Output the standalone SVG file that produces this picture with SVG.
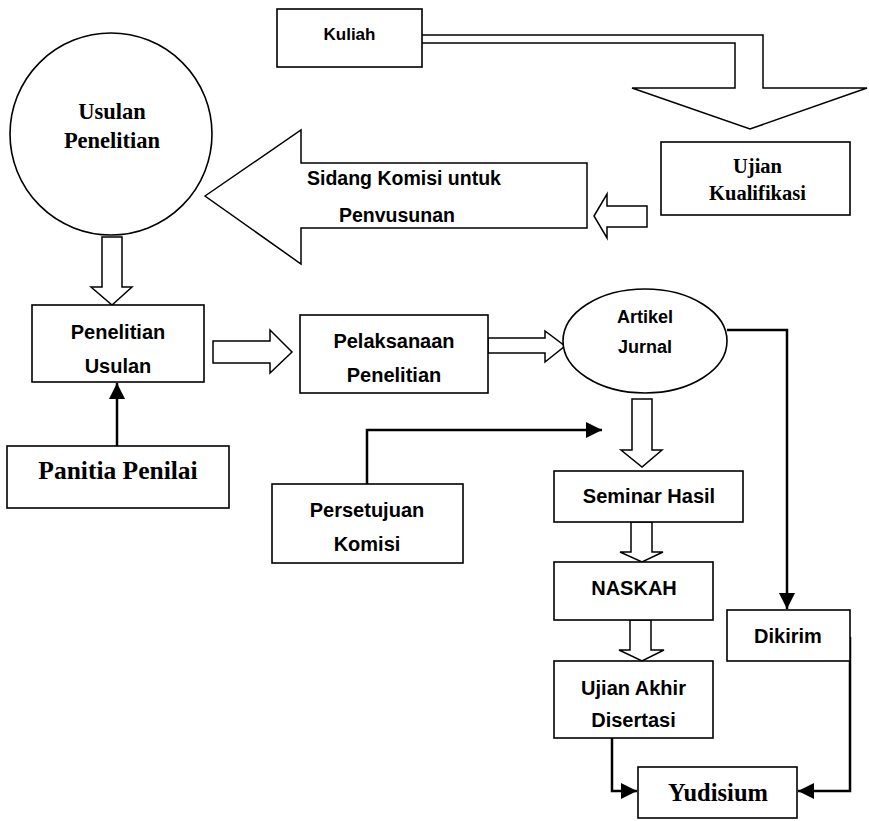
<svg xmlns="http://www.w3.org/2000/svg" width="869" height="821" viewBox="0 0 869 821">
  <style>
    .box { fill: #ffffff; stroke: #000000; stroke-width: 1.6; }
    .block { fill: #ffffff; stroke: #000000; stroke-width: 1.5; stroke-linejoin: miter; }
    .line { fill: none; stroke: #000000; stroke-width: 2.5; }
    .sans { font-family: "Liberation Sans", Arial, sans-serif; font-weight: bold; fill: #000000; }
    .serif { font-family: "Liberation Serif", "Times New Roman", serif; font-weight: bold; fill: #000000; }
    .c { text-anchor: middle; }
  </style>
  <defs>
    <marker id="head" markerUnits="userSpaceOnUse" markerWidth="16" markerHeight="16" refX="16" refY="8" orient="auto">
      <path d="M0,0 L16,8 L0,16 z" fill="#000000"/>
    </marker>
  </defs>

  <!-- connectors: block arrows and plain lines -->
  <g id="connectors">
    <polygon class="block" points="420,35 763,35 763,88 867,88 750,129 632,88 735,88 735,43 420,43"/>
    <polygon class="block" points="594,216 607,194 607,206 647,206 647,227 607,227 607,238"/>
    <polygon class="block" points="102,237 122,237 122,287 132,287 112,305 91,287 102,287"/>
    <polygon class="block" points="213,341 270,341 270,330 292,352 270,373 270,363 213,363"/>
    <polygon class="block" points="488,338 545,338 545,331 565,346 545,362 545,353 488,353"/>
    <polygon class="block" points="632,399 652,399 652,450 662,450 642,467 621,450 632,450"/>
    <polygon class="block" points="631,522 652,522 652,552 663,552 642,562 620,552 631,552"/>
    <polygon class="block" points="630,620 651,620 651,650 664,650 642,661 619,650 630,650"/>

    <path class="line" d="M117,446 V383" marker-end="url(#head)"/>
    <path class="line" d="M367,484 V430 H602" marker-end="url(#head)"/>
    <path class="line" d="M727,330 H787 V609" marker-end="url(#head)"/>
    <path class="line" d="M612,738 V791 H637" marker-end="url(#head)"/>
    <path class="line" d="M850,637 V791 H798" marker-end="url(#head)"/>
  </g>

  <g id="kuliah">
    <rect class="box" x="277" y="9" width="145" height="58"/>
    <text class="sans c" x="349.5" y="40" font-size="17">Kuliah</text>
  </g>

  <g id="usulan-penelitian">
    <circle class="box" cx="111" cy="134" r="101"/>
    <text class="serif c" x="112" y="119" font-size="22.5">Usulan</text>
    <text class="serif c" x="112" y="148" font-size="22.5">Penelitian</text>
  </g>

  <g id="ujian-kualifikasi">
    <rect class="box" x="661" y="142" width="189" height="73"/>
    <text class="serif c" x="757.5" y="172.5" font-size="20.5">Ujian</text>
    <text class="serif c" x="757.5" y="200" font-size="20.5">Kualifikasi</text>
  </g>

  <g id="sidang-komisi">
    <polygon class="block" points="205,196 301,130 301,163 587,163 587,228 301,228 301,264"/>
    <text class="sans" x="307" y="185" font-size="19.5">Sidang Komisi untuk</text>
    <text class="sans" x="339" y="222" font-size="19.5">Penvusunan</text>
  </g>

  <g id="penelitian-usulan">
    <rect class="box" x="32" y="305" width="172" height="77"/>
    <text class="sans c" x="118" y="339" font-size="20">Penelitian</text>
    <text class="sans c" x="118" y="372.5" font-size="20">Usulan</text>
  </g>

  <g id="pelaksanaan-penelitian">
    <rect class="box" x="300" y="315" width="188" height="78"/>
    <text class="sans c" x="394" y="348" font-size="20">Pelaksanaan</text>
    <text class="sans c" x="394" y="381.5" font-size="20">Penelitian</text>
  </g>

  <g id="artikel-jurnal">
    <ellipse class="box" cx="645" cy="341" rx="82" ry="52"/>
    <text class="sans c" x="645" y="322.5" font-size="18">Artikel</text>
    <text class="sans c" x="645" y="353" font-size="18">Jurnal</text>
  </g>

  <g id="panitia-penilai">
    <rect class="box" x="7" y="446" width="222" height="62"/>
    <text class="serif c" x="118" y="479" font-size="25.5">Panitia Penilai</text>
  </g>

  <g id="persetujuan-komisi">
    <rect class="box" x="272" y="484" width="191" height="79"/>
    <text class="sans c" x="367" y="517" font-size="20">Persetujuan</text>
    <text class="sans c" x="367" y="551" font-size="20">Komisi</text>
  </g>

  <g id="seminar-hasil">
    <rect class="box" x="554" y="471" width="189" height="51"/>
    <text class="sans c" x="649" y="503" font-size="20">Seminar Hasil</text>
  </g>

  <g id="naskah">
    <rect class="box" x="554" y="562" width="159" height="58"/>
    <text class="sans c" x="634" y="595" font-size="20">NASKAH</text>
  </g>

  <g id="dikirim">
    <rect class="box" x="727" y="610" width="123" height="51"/>
    <text class="sans c" x="788" y="643" font-size="20">Dikirim</text>
  </g>

  <g id="ujian-akhir">
    <rect class="box" x="554" y="661" width="159" height="77"/>
    <text class="sans c" x="633.5" y="695" font-size="20">Ujian Akhir</text>
    <text class="sans c" x="633.5" y="727" font-size="20">Disertasi</text>
  </g>

  <g id="yudisium">
    <rect class="box" x="638" y="767" width="159" height="51"/>
    <text class="serif c" x="718" y="801" font-size="24.5">Yudisium</text>
  </g>
</svg>
